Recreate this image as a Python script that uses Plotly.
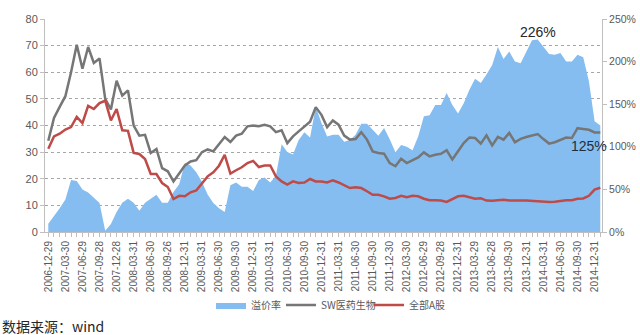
import pandas as pd
import plotly.graph_objects as go

# monthly categories (month-end observations)
months = [p.strftime("%Y-%m") for p in pd.period_range("2006-12", periods=98, freq="M")]

tick_labels = ["2006-12-29", "2007-03-30", "2007-06-29", "2007-09-28", "2007-12-28",
               "2008-03-31", "2008-06-30", "2008-09-26", "2008-12-31", "2009-03-31",
               "2009-06-30", "2009-09-30", "2009-12-31", "2010-03-31", "2010-06-30",
               "2010-09-30", "2010-12-31", "2011-03-31", "2011-06-30", "2011-09-30",
               "2011-12-30", "2012-03-30", "2012-06-29", "2012-09-28", "2012-12-31",
               "2013-03-29", "2013-06-28", "2013-09-30", "2013-12-31", "2014-03-31",
               "2014-06-30", "2014-09-30", "2014-12-31"]

# 溢价率 (%), right axis
premium = [9.8, 18.4, 28, 38, 61, 60, 50, 46.5, 40, 34,
           1.5, 9.4, 23.4, 34.4, 39, 34.4, 25, 34.4, 39, 43.8,
           34.4, 34.4, 47, 56, 81, 78, 70, 59, 44, 34,
           28, 23.4, 55, 58, 53, 53, 48, 61, 64, 58,
           66, 103, 94, 91, 108, 117, 111, 147, 128, 112,
           114, 114, 106, 108, 114, 127, 127, 120, 113, 122,
           109, 93.5, 102, 100, 96, 112, 136, 137, 149, 149,
           163, 149, 139, 151, 167, 180, 175, 185, 196, 217,
           203, 212, 200, 198, 212, 225, 226, 218, 209, 208,
           210, 200, 200, 208, 205, 177, 130, 125]

# SW医药生物 PE, left axis
sw_pharma = [34.3, 42.8, 47, 51, 60, 70.3, 61.3, 69.5, 63.5, 65.2,
             50, 46, 56.8, 51.2, 53.2, 40, 36.2, 36.5, 29.7, 31.2,
             24, 22.8, 19, 22.2, 25, 26.5, 27, 30, 31, 30.3,
             32.8, 35.7, 33.8, 36.2, 36.9, 39.7, 40, 39.7, 40.3, 39.7,
             37.5, 38.2, 33.4, 35.9, 37.8, 39.7, 41.4, 46.9, 44, 39.4,
             41.9, 40.3, 36.2, 34.7, 34.9, 37.5, 34.7, 30.3, 29.7, 29.4,
             25.9, 24.7, 27.5, 25.9, 26.9, 28, 29.9, 28.4, 29, 29.4,
             30.7, 27.2, 30.3, 33.4, 35.5, 35.3, 33.2, 36.3, 32.5, 35.7,
             34.7, 37.2, 33.7, 35, 35.7, 36.4, 36.8, 34.9, 33.2, 33.7,
             34.7, 35.5, 35.3, 39, 38.7, 38.4, 37.4, 37.4]

# 全部A股 PE, left axis
all_a = [31.3, 35.9, 36.9, 38.5, 39.4, 43.2, 40.9, 47.4, 46.2, 48.4,
         49.3, 41.9, 46.2, 38.2, 38, 29.7, 29.3, 27.4, 21.8, 21.8,
         18.4, 16.9, 12.4, 13.6, 13.4, 14.9, 15.6, 18.4, 20.9, 22.4,
         24.9, 29, 21.9, 23.2, 24.3, 25.9, 26.7, 24.4, 25, 25,
         20.9, 19, 17.8, 19, 18.4, 18.6, 19.9, 19, 19, 18.6,
         19.4, 18.6, 17.4, 16.5, 16.8, 16.5, 15.3, 14, 14, 13.4,
         12.5, 12.8, 13.6, 13.1, 13.6, 13.4, 12.5, 11.9, 11.9, 11.8,
         11.3, 12.4, 13.4, 13.6, 13.1, 12.5, 12.7, 11.8, 11.7, 11.8,
         12.1, 11.8, 11.9, 11.8, 11.8, 11.7, 11.4, 11.4, 11.3, 11.4,
         11.7, 11.9, 11.9, 12.5, 12.6, 13.6, 15.9, 16.6]

left_ticks = [0, 10, 20, 30, 40, 50, 60, 70, 80]
right_ticks = [0, 50, 100, 150, 200, 250]

FONT = "Liberation Sans, Arial, Noto Sans CJK SC, sans-serif"
AXIS_GRAY = "#bfbfbf"
TEXT_GRAY = "#595959"

fig = go.Figure()
fig.add_trace(go.Scatter(
    x=months, y=premium, name="溢价率", mode="lines",
    line=dict(width=0, color="#86BDF0"), fill="tozeroy", fillcolor="#86BDF0",
    yaxis="y", legend="legend"))
fig.add_trace(go.Scatter(
    x=months, y=sw_pharma, name="SW医药生物", mode="lines",
    line=dict(width=2.5, color="#767676"), yaxis="y2", legend="legend2"))
fig.add_trace(go.Scatter(
    x=months, y=all_a, name="全部A股", mode="lines",
    line=dict(width=2.5, color="#BE4B48"), yaxis="y2", legend="legend3"))

tickvals = months
ticktext = [tick_labels[i // 3] if i % 3 == 0 else "" for i in range(len(months))]

def legend_at(text_left_px):
    return dict(orientation="h", xref="container", yref="container",
                x=(text_left_px - 37) / 640, xanchor="left",
                y=1 - 305 / 335, yanchor="middle",
                font=dict(size=10, color=TEXT_GRAY, family="Noto Sans CJK SC, sans-serif"),
                itemwidth=30, bgcolor="rgba(0,0,0,0)")

fig.update_layout(
    width=640, height=335,
    margin=dict(l=45, r=38, t=19, b=103, autoexpand=False),
    paper_bgcolor="white", plot_bgcolor="white",
    font=dict(family=FONT, size=11, color=TEXT_GRAY),
    showlegend=True,
    legend=legend_at(248),
    legend2=legend_at(318),
    legend3=legend_at(406),
    xaxis=dict(type="category", range=[-0.58, 97.3],
               tickmode="array", tickvals=tickvals, ticktext=ticktext,
               tickangle=-90, tickfont=dict(size=10, color=TEXT_GRAY),
               ticks="outside", ticklen=4, tickcolor=AXIS_GRAY,
               showline=True, linecolor=AXIS_GRAY, linewidth=1,
               showgrid=False, zeroline=False, automargin=False),
    yaxis=dict(side="right", range=[0, 250], tickmode="array",
               tickvals=right_ticks, ticktext=[f"{v}%" for v in right_ticks],
               tickfont=dict(size=10.5, color=TEXT_GRAY),
               ticks="outside", ticklen=4, tickcolor=AXIS_GRAY,
               showline=True, linecolor=AXIS_GRAY, linewidth=1,
               showgrid=False, zeroline=False, automargin=False),
    yaxis2=dict(side="left", overlaying="y", range=[0, 80], tickmode="array",
                tickvals=left_ticks, tickfont=dict(size=11, color=TEXT_GRAY),
                ticks="outside", ticklen=4, tickcolor=AXIS_GRAY,
                showline=True, linecolor=AXIS_GRAY, linewidth=1,
                showgrid=True, gridcolor="#a6a6a6", griddash="3px,3px", gridwidth=1,
                zeroline=False, automargin=False),
)

fig.add_annotation(x=months[86], y=226, xref="x", yref="y", text="226%",
                   showarrow=False, yshift=7,
                   font=dict(size=14, color="#262626", family="Liberation Sans, Arial"))
fig.add_annotation(x=months[95], y=125, xref="x", yref="y", text="125%",
                   showarrow=False, yshift=-20,
                   font=dict(size=14, color="#1f2d3d", family="Liberation Sans, Arial"))
fig.add_annotation(x=-45 / 557, y=-(326 - 232) / 213, xref="paper", yref="paper",
                   text="数据来源：wind", xanchor="left", yanchor="middle", showarrow=False,
                   font=dict(size=14, color="#262626", family="Noto Sans CJK SC, sans-serif"))

fig.write_html("out.html")
